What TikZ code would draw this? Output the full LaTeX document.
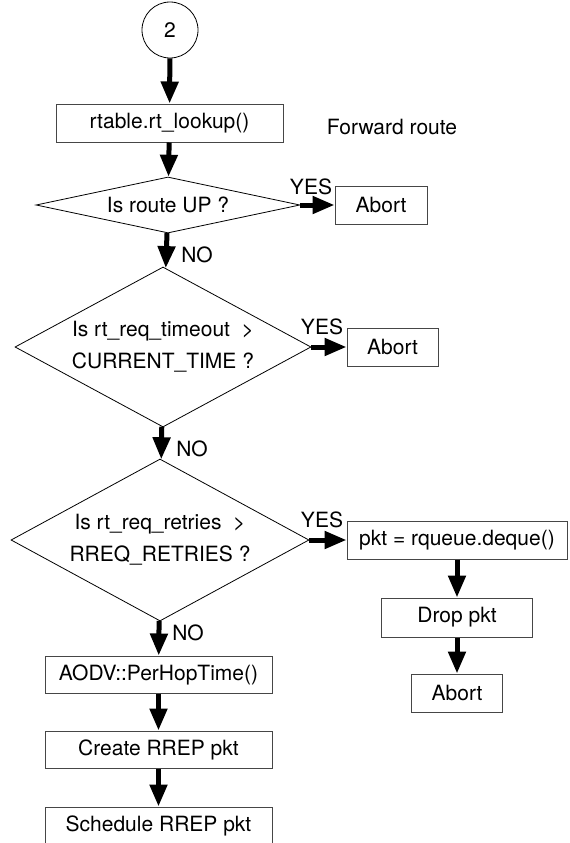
\documentclass[tikz,border=0pt]{standalone}
\usepackage{fontspec}
\setmainfont{TeX Gyre Heros}
\usetikzlibrary{shapes.geometric,arrows.meta}
\begin{document}
\begin{tikzpicture}[x=1pt,y=-1pt,
    every node/.style={font=\fontsize{21}{32}\selectfont},
    procbox/.style={draw=myboxline, line width=1pt, minimum height=38pt, inner sep=0pt},
    decision/.style={draw, diamond, line width=0.8pt, inner sep=0pt, align=center},
    flow/.style={-{Triangle[length=22pt,width=17pt]}, line width=5pt}]
    \definecolor{myboxline}{RGB}{70,70,70}
    \useasboundingbox (0,0) rectangle (570,843);

    % main column
    \node[draw, circle, line width=0.8pt, minimum size=56pt, inner sep=0pt] (start) at (170,30) {2};
    \node[procbox, minimum width=227pt] (lookup) at (169.5,123) {rtable.rt\_lookup()};
    \node (fwd) at (392,127) {Forward route};
    \node[decision, aspect=4.71, minimum width=264pt, minimum height=56pt] (isup) at (168,205) {Is route UP ?};
    \node[decision, aspect=1.85, minimum width=296pt, minimum height=160pt] (timeout) at (163,347)
        {Is rt\_req\_timeout\ \ >\\ CURRENT\_TIME ?};
    \node[decision, aspect=1.84, minimum width=298pt, minimum height=162pt] (retries) at (160,540)
        {Is rt\_req\_retries\ \ >\\ RREQ\_RETRIES ?};
    \node[procbox, minimum width=227pt, minimum height=37pt] (perhop) at (158.5,674.5) {AODV::PerHopTime()};
    \node[procbox, minimum width=227pt, minimum height=37pt] (create) at (158.5,749.5) {Create RREP pkt};
    \node[procbox, minimum width=227pt] (sched) at (158.5,826) {Schedule RREP pkt};

    % side branches
    \node[procbox, minimum width=92pt] (abort1) at (381,205) {Abort};
    \node[procbox, minimum width=91pt] (abort2) at (392.5,347) {Abort};
    \node[procbox, minimum width=220pt] (deque) at (457,540) {pkt = rqueue.deque()};
    \node[procbox, minimum width=151pt, minimum height=39pt] (drop) at (457,617.5) {Drop pkt};
    \node[procbox, minimum width=91pt] (abort3) at (457,693) {Abort};

    % labels
    \node (yes1) at (311,187) {YES};
    \node (yes2) at (322,327) {YES};
    \node (yes3) at (322,520) {YES};
    \node (no1) at (197,255) {NO};
    \node (no2) at (192,449) {NO};
    \node (no3) at (188,633) {NO};

    \draw[flow] (start) -- (lookup);
    \draw[flow] (lookup) -- (isup);
    \draw[flow] (isup) -- (abort1);
    \draw[flow] (isup) -- (timeout);
    \draw[flow] (timeout) -- (abort2);
    \draw[flow] (timeout) -- (retries);
    \draw[flow] (retries) -- (deque);
    \draw[flow] (retries) -- (perhop);
    \draw[flow] (perhop) -- (create);
    \draw[flow] (create) -- (sched);
    \draw[flow] (deque) -- (drop);
    \draw[flow] (drop) -- (abort3);
\end{tikzpicture}
\end{document}
